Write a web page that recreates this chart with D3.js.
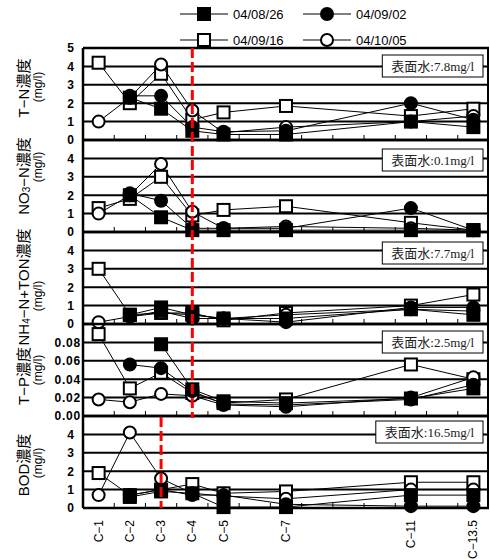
<!DOCTYPE html>
<html><head><meta charset="utf-8">
<script src="https://cdn.jsdelivr.net/npm/d3@7"></script>
<style>body{margin:0;background:#fff}svg{display:block}</style>
</head><body>
<svg id="c" width="490" height="559"></svg>
<script>
// ---- data ----
const xValues = [1, 2, 3, 4, 5, 7, 11, 13];
const categories = ["C\u22121","C\u22122","C\u22123","C\u22124","C\u22125","C\u22127","C\u221211","C\u221213.5"];
const seriesNames = ["04/08/26","04/09/02","04/09/16","04/10/05"];
const surfaceLabels = ["表面水:7.8mg/l","表面水:0.1mg/l","表面水:7.7mg/l","表面水:2.5mg/l","表面水:16.5mg/l"];

const tnValues = [
  [null, 2.3, 1.7, 0.5, 0.3, 0.3, 1.0, 0.7],
  [null, 2.4, 2.4, 0.7, 0.45, 0.5, 2.0, 1.1],
  [4.2, 2.0, 3.6, 1.1, 1.5, 1.85, 1.3, 1.7],
  [1.0, 2.3, 4.1, 1.6, 0.4, 0.7, 1.0, 1.3]
];
const no3Values = [
  [null, 2.0, 0.8, 0.1, 0.1, 0.1, 0.1, 0.1],
  [null, 2.1, 1.7, 0.2, 0.2, 0.2, 1.3, 0.1],
  [1.3, 1.8, 3.0, 0.9, 1.2, 1.4, 0.5, 0.1],
  [1.0, 2.0, 3.7, 1.1, 0.2, 0.3, 0.2, 0.1]
];
const nh4Values = [
  [null, 0.5, 0.9, 0.5, 0.3, 0.3, 0.8, 0.5],
  [null, 0.4, 0.7, 0.3, 0.3, 0.1, 0.9, 0.9],
  [3.0, 0.5, 0.6, 0.6, 0.2, 0.6, 1.0, 1.6],
  [0.1, 0.4, 0.6, 0.5, 0.3, 0.5, 0.8, 0.7]
];
const tpValues = [
  [null, null, 0.078, 0.029, 0.016, 0.014, 0.019, 0.030],
  [null, 0.056, 0.052, 0.027, 0.013, 0.012, 0.018, 0.034],
  [0.089, 0.030, 0.047, 0.025, 0.014, 0.018, 0.056, 0.040],
  [0.018, 0.015, 0.024, 0.022, 0.012, 0.010, 0.020, 0.042]
];
const bodValues = [
  [null, 0.6, 0.9, 0.8, 0.05, 0.05, 0.7, 0.7],
  [null, 0.7, 1.0, 0.7, 0.7, 0.2, 0.1, 0.1],
  [1.9, 0.7, 1.0, 1.3, 0.8, 0.9, 1.4, 1.4],
  [0.7, 4.1, 1.6, 0.8, 0.65, 0.5, 1.0, 1.0]
];
const intTicks = [0, 1, 2, 3, 4, 5];
const tpTicks = [0, 0.02, 0.04, 0.06, 0.08, 0.1];
const markerLine = [4, 4, 4, 4, 3]; // x value of red dashed line per panel

// ---- layout ----
const svg = d3.select("#c");
const left = 83, right = 489;
const x = d3.scaleLinear().domain([0.5, 13.5]).range([left, right]);
const panelTop = [48, 140, 232, 324, 416];
const panelH = 92;
const panels = [
  {values: tnValues, max: 5, ticks: intTicks, fmt: d3.format("d"), title: [["T\u2212N濃度"]], tc: 88, uc: 87, boxTop: 55},
  {values: no3Values, max: 5, ticks: intTicks, fmt: d3.format("d"), title: [["NO"],["3","sub"],["\u2212N濃度"]], tc: 176, uc: 167, boxTop: 149},
  {values: nh4Values, max: 5, ticks: intTicks, fmt: d3.format("d"), title: [["NH"],["4","sub"],["\u2212N+TON濃度"]], tc: 287, uc: 296, boxTop: 242},
  {values: tpValues, max: 0.1, ticks: tpTicks, fmt: d3.format(".2f"), title: [["T\u2212P濃度"]], tc: 376, uc: 370, boxTop: 331},
  {values: bodValues, max: 5, ticks: intTicks, fmt: d3.format("d"), title: [["BOD濃度"]], tc: 465, uc: 463, boxTop: 421}
];
const sans = "'Liberation Sans', Arial, 'Noto Sans CJK JP', sans-serif";
const drawOrder = [2, 3, 1, 0];

panels.forEach((p, i) => {
  const top = panelTop[i], bot = top + panelH;
  const y = d3.scaleLinear().domain([0, p.max]).range([bot, top]);
  const g = svg.append("g");

  // gridlines
  g.selectAll("line.grid").data(p.ticks).join("line")
    .attr("x1", left).attr("x2", right)
    .attr("y1", d => y(d)).attr("y2", d => y(d))
    .attr("stroke", "#000").attr("stroke-width", (d, k) => (k === 0 || k === p.ticks.length - 1) ? 2.5 : 2);

  // tick labels (skip top label except first panel)
  const labTicks = i === 0 ? p.ticks : p.ticks.slice(0, -1);
  g.selectAll("text.yl").data(labTicks).join("text")
    .attr("x", p.max < 1 ? 81 : 74).attr("y", d => y(d))
    .attr("dy", "0.36em").attr("text-anchor", "end")
    .attr("font-family", sans).attr("font-weight", "bold").attr("font-size", 12)
    .attr("letter-spacing", p.max < 1 ? 0.8 : 0)
    .text(d => p.fmt(d));

  // inward minor ticks at bottom
  const minor = d3.range(1.5, 13, 1);
  g.selectAll("line.mt").data(minor).join("line")
    .attr("x1", d => x(d)).attr("x2", d => x(d))
    .attr("y1", bot).attr("y2", bot - 5)
    .attr("stroke", "#000").attr("stroke-width", 1);

  // y title
  const t = g.append("text")
    .attr("transform", `translate(23,${p.tc}) rotate(-90)`)
    .attr("text-anchor", "middle").attr("dominant-baseline", "central")
    .attr("font-family", sans).attr("font-size", 15);
  p.title.forEach(part => {
    const ts = t.append("tspan").text(part[0]);
    if (part[1] === "sub") ts.attr("font-size", 10).attr("baseline-shift", "-30%");
  });
  g.append("text")
    .attr("transform", `translate(38,${p.uc}) rotate(-90)`)
    .attr("text-anchor", "middle").attr("dominant-baseline", "central")
    .attr("font-family", sans).attr("font-size", 12)
    .text("(mg/l)");

  // series
  const line = d3.line().defined(d => d.v !== null).x(d => x(d.x)).y(d => y(d.v));
  drawOrder.forEach(s => {
    const pts = xValues.map((xv, k) => ({x: xv, v: p.values[s][k]}));
    g.append("path").attr("d", line(pts)).attr("fill", "none")
      .attr("stroke", "#000").attr("stroke-width", 1);
    const valid = pts.filter(d => d.v !== null);
    drawMarkers(g, valid.map(d => [x(d.x), y(d.v)]), s);
  });

  // surface water box
  const bt = g.append("text")
    .attr("font-family", "'Liberation Serif', 'Noto Sans CJK JP', serif")
    .attr("font-size", 13).attr("fill", "#222")
    .text(surfaceLabels[i]);
  const w = bt.node().getComputedTextLength() + 18;
  const bx = 483 - w, by = p.boxTop, bh = 22;
  g.append("rect")
    .attr("x", bx).attr("y", by).attr("width", w).attr("height", bh)
    .attr("fill", "#fff").attr("stroke", "#000").attr("stroke-width", 1);
  bt.attr("x", bx + 9).attr("y", by + bh / 2).attr("dy", "0.35em");
  bt.raise();
});

// plot side borders
svg.append("line").attr("x1", left).attr("x2", left).attr("y1", panelTop[0]).attr("y2", panelTop[4] + panelH)
  .attr("stroke", "#000").attr("stroke-width", 2.5);
svg.append("line").attr("x1", right - 1).attr("x2", right - 1).attr("y1", panelTop[0]).attr("y2", panelTop[4] + panelH)
  .attr("stroke", "#000").attr("stroke-width", 2);

// red dashed reference lines
svg.append("line").attr("x1", x(markerLine[0])).attr("x2", x(markerLine[0]))
  .attr("y1", panelTop[0]).attr("y2", panelTop[4] + 2)
  .attr("stroke", "#ff0000").attr("stroke-width", 3).attr("stroke-dasharray", "10,4");
svg.append("line").attr("x1", x(markerLine[4])).attr("x2", x(markerLine[4]))
  .attr("y1", panelTop[4] + 1).attr("y2", panelTop[4] + panelH)
  .attr("stroke", "#ff0000").attr("stroke-width", 3).attr("stroke-dasharray", "10,4");

// x labels
svg.selectAll("text.xl").data(categories).join("text")
  .attr("transform", (d, k) => `translate(${x(xValues[k])},520) rotate(-90)`)
  .attr("text-anchor", "end").attr("dominant-baseline", "central")
  .attr("font-family", sans).attr("font-size", 12)
  .text(d => d);

// legend
const legendPos = [[180, 14], [303, 14], [180, 40], [303, 40]];
seriesNames.forEach((name, s) => {
  const [lx, ly] = legendPos[s];
  svg.append("line").attr("x1", lx).attr("x2", lx + 48).attr("y1", ly).attr("y2", ly)
    .attr("stroke", "#000").attr("stroke-width", 1);
  drawMarkers(svg, [[lx + 24, ly]], s);
  svg.append("text").attr("x", lx + 53).attr("y", ly).attr("dy", "0.36em")
    .attr("font-family", sans).attr("font-size", 13).text(name);
});

function drawMarkers(g, pts, s) {
  const filled = s < 2, square = s % 2 === 0;
  const size = 12;
  const sel = g.selectAll(null).data(pts).enter();
  if (square) {
    sel.append("rect").attr("x", d => d[0] - size / 2).attr("y", d => d[1] - size / 2)
      .attr("width", size).attr("height", size)
      .attr("fill", filled ? "#000" : "#fff").attr("stroke", "#000").attr("stroke-width", 2);
  } else {
    sel.append("circle").attr("cx", d => d[0]).attr("cy", d => d[1]).attr("r", size / 2)
      .attr("fill", filled ? "#000" : "#fff").attr("stroke", "#000").attr("stroke-width", 2);
  }
}
</script>
</body></html>
